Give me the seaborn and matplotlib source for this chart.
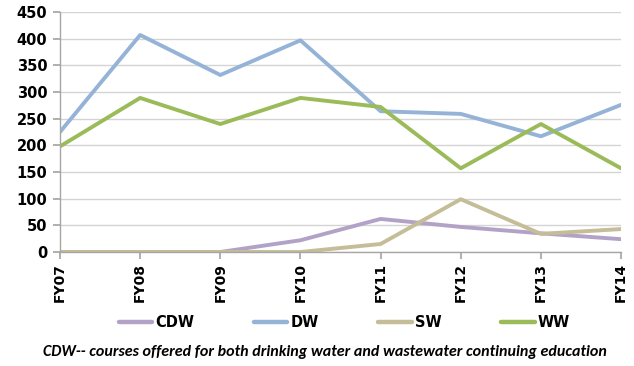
import matplotlib
matplotlib.use("Agg")
import matplotlib.pyplot as plt
import seaborn as sns
import pandas as pd

years = ["FY07", "FY08", "FY09", "FY10", "FY11", "FY12", "FY13", "FY14"]
cdw = [0, 0, 0, 22, 62, 47, 35, 24]
dw = [225, 407, 332, 397, 264, 259, 217, 276]
sw = [0, 0, 0, 0, 15, 99, 34, 43]
ww = [198, 289, 240, 289, 272, 157, 240, 157]
series_names = ["CDW", "DW", "SW", "WW"]
colors = ["#b3a2c7", "#95b3d7", "#c4bd97", "#9bbb59"]
y_ticks = [0, 50, 100, 150, 200, 250, 300, 350, 400, 450]
caption = "CDW-- courses offered for both drinking water and wastewater continuing education"

sns.set_theme(style="white")
plt.rcParams["font.family"] = ["DejaVu Sans"]
plt.rcParams["text.color"] = "black"

rows = []
for name, vals in zip(series_names, [cdw, dw, sw, ww]):
    for i, (yr, v) in enumerate(zip(years, vals)):
        rows.append({"idx": i, "year": yr, "count": v, "series": name})
df = pd.DataFrame(rows)

fig = plt.figure(figsize=(6.34, 3.66), dpi=100)
ax = fig.add_axes([0.0946, 0.3115, 0.885, 0.6555])

sns.lineplot(data=df, x="idx", y="count", hue="series", hue_order=series_names,
             palette=colors, linewidth=2.8, sort=False, ax=ax, legend=False)

ax.set_xlim(0, len(years) - 1)
ax.set_ylim(0, 450)
ax.set_yticks(y_ticks)
ax.set_yticklabels([str(t) for t in y_ticks], fontsize=10.5, fontweight="bold",
                   color="black")
ax.set_xticks(range(len(years)))
ax.set_xticklabels(years, rotation=90, fontsize=10, fontweight="bold", color="black")
ax.set_xlabel("")
ax.set_ylabel("")
ax.yaxis.grid(True, color="#d4d4d4", linewidth=1)
ax.set_axisbelow(True)
for s in ["top", "right"]:
    ax.spines[s].set_visible(False)
for s in ["left", "bottom"]:
    ax.spines[s].set_color("#a6a6a6")
    ax.spines[s].set_linewidth(1)
ax.tick_params(axis="x", which="major", direction="out", length=5, color="#a6a6a6",
               bottom=True, pad=3)
ax.tick_params(axis="y", which="major", direction="out", length=5, color="#a6a6a6",
               left=True, pad=4)

handles = [plt.Line2D([0], [0], color=c, linewidth=3.2) for c in colors]
fig.legend(handles, series_names, loc="center", bbox_to_anchor=(0.543, 0.118),
           ncol=4, frameon=False, handlelength=2.3, handletextpad=0.2,
           columnspacing=4.1,
           prop={"family": "DejaVu Sans", "weight": "bold", "size": 10.5})

fig.text(0.512, 0.038, caption, ha="center", va="center", fontsize=11.5,
         fontweight="bold", style="italic", family="Carlito", color="black")

fig.savefig("out.png", dpi=100, facecolor="white")
